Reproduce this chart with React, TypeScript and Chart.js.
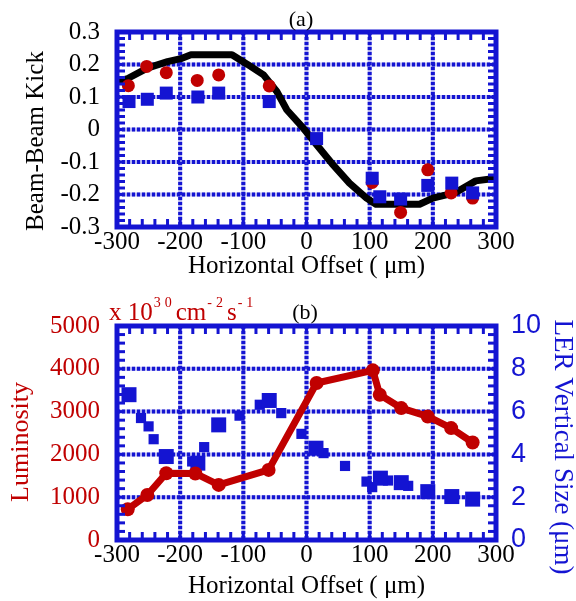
import React, { useEffect, useRef } from "react";
import { Chart, registerables } from "chart.js";

Chart.register(...registerables);

// ---------- data ----------
const offsetTicks = [-300, -200, -100, 0, 100, 200, 300];
const kickTicks = [-0.3, -0.2, -0.1, 0, 0.1, 0.2, 0.3];
const lumTicks = [0, 1000, 2000, 3000, 4000, 5000];
const sizeTicks = [0, 2, 4, 6, 8, 10];

// (a) calculated beam-beam kick (black curve)
const kickCalcX = [-300, -283, -252, -220, -199, -183, -118, -94, -68, -47, -31, -5, 16, 40, 68, 95, 110, 179, 200, 236, 268, 300];
const kickCalcY = [0.147, 0.157, 0.189, 0.209, 0.218, 0.23, 0.23, 0.201, 0.168, 0.117, 0.06, 0.004, -0.047, -0.104, -0.165, -0.211, -0.23, -0.23, -0.211, -0.194, -0.158, -0.15];

// (a) measured kick, red circles
const kickRedX = [-282, -253, -222, -173, -139, -59, 104, 149, 192, 229, 263];
const kickRedY = [0.135, 0.194, 0.175, 0.151, 0.168, 0.134, -0.163, -0.255, -0.124, -0.195, -0.211];

// (a) measured kick, blue squares
const kickBlueX = [-281, -252, -222, -172, -139, -59, 16, 104, 116, 149, 192, 230, 263];
const kickBlueY = [0.086, 0.093, 0.112, 0.1, 0.112, 0.086, -0.028, -0.15, -0.207, -0.214, -0.172, -0.165, -0.195];

// (b) luminosity (red line)
const lumX = [-283, -252, -222, -176, -139, -60, 16, 105, 116, 150, 192, 229, 263];
const lumY = [718, 1053, 1561, 1555, 1287, 1638, 3668, 3964, 3394, 3082, 2887, 2614, 2278];

// (b) LER vertical size, large squares
const sizeBigX = [-281, -222, -172, -139, -59, 15, 117, 150, 192, 230, 263];
const sizeBigY = [6.79, 3.9, 3.59, 5.38, 6.52, 4.29, 2.89, 2.68, 2.26, 2.03, 1.91];

// (b) LER vertical size, small squares
const sizeSmallX = [-262, -250, -242, -181, -162, -106, -74, -40, -8, 27, 61, 95, 104, 129, 161];
const sizeSmallY = [5.7, 5.31, 4.71, 3.67, 4.34, 5.81, 6.32, 5.93, 4.96, 4.06, 3.46, 2.73, 2.47, 2.78, 2.53];

// ---------- styles ----------
const BLUE = "#1414d2";
const RED = "#c00000";
const SERIF = "'Liberation Serif', 'Times New Roman', serif";
const SANS = "'Liberation Sans', Arial, sans-serif";

const pts = (xs: number[], ys: number[]) => xs.map((x, i) => ({ x, y: ys[i] }));

const framePlugin = {
  id: "frame",
  beforeDatasetsDraw(chart: any) {
    const { ctx, chartArea: a, scales } = chart;
    ctx.save();
    ctx.lineWidth = 4;
    const line = (x1: number, y1: number, x2: number, y2: number) => {
      ctx.setLineDash([]);
      ctx.strokeStyle = "rgba(40,40,215,0.35)";
      ctx.beginPath();
      ctx.moveTo(x1, y1);
      ctx.lineTo(x2, y2);
      ctx.stroke();
      ctx.setLineDash([3, 2]);
      ctx.strokeStyle = BLUE;
      ctx.beginPath();
      ctx.moveTo(x1, y1);
      ctx.lineTo(x2, y2);
      ctx.stroke();
    };
    const sx = scales.x;
    sx.ticks.forEach((t: any) => {
      if (t.value > sx.min && t.value < sx.max) {
        const p = sx.getPixelForValue(t.value);
        line(p, a.top, p, a.bottom);
      }
    });
    const sy = scales.y;
    sy.ticks.forEach((t: any) => {
      if (t.value > sy.min && t.value < sy.max) {
        const p = sy.getPixelForValue(t.value);
        line(a.left, p, a.right, p);
      }
    });
    ctx.restore();
  },
  afterDatasetsDraw(chart: any, _args: any, opts: any) {
    const { ctx, chartArea: a, scales } = chart;
    ctx.save();
    ctx.strokeStyle = BLUE;
    ctx.setLineDash([]);
    ctx.lineWidth = 3;
    const L = 8;
    const tick = (x1: number, y1: number, x2: number, y2: number) => {
      ctx.beginPath();
      ctx.moveTo(x1, y1);
      ctx.lineTo(x2, y2);
      ctx.stroke();
    };
    const steps = (s: any, step: number, fn: (p: number) => void) => {
      const n = Math.round((s.max - s.min) / step);
      for (let i = 0; i <= n; i++) fn(s.getPixelForValue(s.min + i * step));
    };
    steps(scales.x, opts.xStep, (p) => {
      tick(p, a.top, p, a.top + L);
      tick(p, a.bottom, p, a.bottom - L);
    });
    steps(scales.y, opts.yStep, (p) => {
      tick(a.left, p, a.left + L, p);
      if (!scales.y2) tick(a.right, p, a.right - L, p);
    });
    if (scales.y2) {
      steps(scales.y2, opts.y2Step, (p) => tick(a.right, p, a.right - L, p));
    }
    ctx.lineWidth = 5;
    ctx.strokeRect(a.left, a.top, a.right - a.left, a.bottom - a.top);
    ctx.restore();
  },
  afterDraw(chart: any, _args: any, opts: any) {
    const { ctx } = chart;
    ctx.save();
    (opts.texts || []).forEach((t: any) => {
      ctx.save();
      ctx.translate(t.x, t.y);
      ctx.rotate(t.rot || 0);
      ctx.font = t.font;
      ctx.fillStyle = t.color;
      ctx.textAlign = "center";
      ctx.textBaseline = t.baseline || "middle";
      ctx.fillText(t.text, 0, 0);
      ctx.restore();
    });
    if (opts.rich) {
      const r = opts.rich;
      let x = r.x;
      ctx.fillStyle = r.color;
      ctx.textAlign = "left";
      ctx.textBaseline = "alphabetic";
      r.segs.forEach((s: any) => {
        if (s.sup) {
          ctx.font = r.supFont;
          for (const ch of s.t) {
            ctx.fillText(ch, x, r.y - r.rise);
            x += ctx.measureText(ch).width + r.gap;
          }
        } else {
          ctx.font = r.font;
          ctx.fillText(s.t, x, r.y);
          x += ctx.measureText(s.t).width + 1;
        }
      });
    }
    ctx.restore();
  },
};

const xAxis = (height: number, titlePad: number) => ({
  type: "linear" as const,
  min: -300,
  max: 300,
  afterBuildTicks: (s: any) => {
    s.ticks = offsetTicks.map((v) => ({ value: v }));
  },
  afterFit: (s: any) => {
    s.height = height;
  },
  grid: { display: false, drawTicks: false },
  border: { display: false },
  ticks: {
    autoSkip: false,
    maxRotation: 0,
    padding: 0,
    color: "#000",
    font: { family: SERIF, size: 25 },
    callback: (v: any) => String(v),
  },
  title: {
    display: true,
    text: "Horizontal Offset ( μm)",
    color: "#000",
    font: { family: SERIF, size: 25 },
    padding: { top: 0, bottom: titlePad },
  },
});

function KickChart() {
  const ref = useRef<HTMLCanvasElement>(null);
  useEffect(() => {
    const chart = new Chart(ref.current!, {
      type: "scatter",
      data: {
        datasets: [
          {
            label: "blue",
            data: pts(kickBlueX, kickBlueY),
            pointStyle: "rect",
            pointRadius: 9.2,
            pointBackgroundColor: BLUE,
            pointBorderWidth: 0,
            showLine: false,
          },
          {
            label: "red",
            data: pts(kickRedX, kickRedY),
            pointStyle: "circle",
            pointRadius: 6.5,
            pointBackgroundColor: RED,
            pointBorderWidth: 0,
            showLine: false,
          },
          {
            label: "calc",
            data: pts(kickCalcX, kickCalcY),
            showLine: true,
            borderColor: "#000",
            borderWidth: 7,
            borderJoinStyle: "round",
            borderCapStyle: "butt",
            pointRadius: 0,
            tension: 0,
          } as any,
        ],
      },
      options: {
        responsive: false,
        animation: false,
        layout: { padding: { left: 0, right: 80, top: 32, bottom: 0 } },
        plugins: {
          legend: { display: false },
          tooltip: { enabled: false },
          frame: {
            xStep: 20,
            yStep: 0.02,
            texts: [
              { text: "(a)", x: 301, y: 26, font: `22px ${SERIF}`, color: "#000", baseline: "alphabetic" },
              { text: "Beam-Beam Kick", x: 36, y: 141, rot: -Math.PI / 2, font: `25px ${SERIF}`, color: "#000" },
            ],
          },
        } as any,
        scales: {
          x: xAxis(63, 9),
          y: {
            type: "linear",
            min: -0.3,
            max: 0.3,
            afterBuildTicks: (s: any) => {
              s.ticks = kickTicks.map((v) => ({ value: v }));
            },
            afterFit: (s: any) => {
              s.width = 117;
            },
            grid: { display: false, drawTicks: false },
            border: { display: false },
            ticks: {
              autoSkip: false,
              padding: 17,
              color: "#000",
              font: { family: SERIF, size: 25 },
              callback: (v: any) => String(Math.round(Number(v) * 10) / 10),
            },
          },
        },
      },
      plugins: [framePlugin],
    });
    return () => chart.destroy();
  }, []);
  return <canvas ref={ref} width={576} height={290} style={{ display: "block" }} />;
}

function LumChart() {
  const ref = useRef<HTMLCanvasElement>(null);
  useEffect(() => {
    const chart = new Chart(ref.current!, {
      type: "scatter",
      data: {
        datasets: [
          {
            label: "Luminosity",
            data: pts(lumX, lumY),
            yAxisID: "y",
            showLine: true,
            borderColor: RED,
            borderWidth: 7,
            borderJoinStyle: "round",
            pointStyle: "circle",
            pointRadius: 7,
            pointBackgroundColor: RED,
            pointBorderWidth: 0,
            tension: 0,
          } as any,
          {
            label: "size big",
            data: pts(sizeBigX, sizeBigY),
            yAxisID: "y2",
            pointStyle: "rect",
            pointRadius: 10.6,
            pointBackgroundColor: BLUE,
            pointBorderWidth: 0,
            showLine: false,
          },
          {
            label: "size small",
            data: pts(sizeSmallX, sizeSmallY),
            yAxisID: "y2",
            pointStyle: "rect",
            pointRadius: 7.2,
            pointBackgroundColor: BLUE,
            pointBorderWidth: 0,
            showLine: false,
          },
        ],
      },
      options: {
        responsive: false,
        animation: false,
        layout: { padding: { left: 0, right: 0, top: 36, bottom: 0 } },
        plugins: {
          legend: { display: false },
          tooltip: { enabled: false },
          frame: {
            xStep: 20,
            yStep: 200,
            y2Step: 0.4,
            texts: [
              { text: "(b)", x: 305, y: 29, font: `22px ${SERIF}`, color: "#000", baseline: "alphabetic" },
              { text: "Luminosity", x: 21, y: 152, rot: -Math.PI / 2, font: `26px ${SERIF}`, color: RED },
              { text: "LER Vertical Size (μm)", x: 562, y: 157, rot: Math.PI / 2, font: `27px ${SERIF}`, color: BLUE },
            ],
            rich: {
              x: 109,
              y: 30,
              rise: 13,
              gap: 4,
              color: RED,
              font: `25px ${SERIF}`,
              supFont: `14px ${SERIF}`,
              segs: [
                { t: "x 10" },
                { t: "30", sup: true },
                { t: "cm" },
                { t: "-2", sup: true },
                { t: "s" },
                { t: "-1", sup: true },
              ],
            },
          },
        } as any,
        scales: {
          x: xAxis(61, 0),
          y: {
            type: "linear",
            position: "left",
            min: 0,
            max: 5000,
            afterBuildTicks: (s: any) => {
              s.ticks = lumTicks.map((v) => ({ value: v }));
            },
            afterFit: (s: any) => {
              s.width = 117;
            },
            grid: { display: false, drawTicks: false },
            border: { display: false },
            ticks: {
              autoSkip: false,
              padding: 17,
              color: RED,
              font: { family: SERIF, size: 25 },
              callback: (v: any) => String(v),
            },
          },
          y2: {
            type: "linear",
            position: "right",
            min: 0,
            max: 10,
            afterBuildTicks: (s: any) => {
              s.ticks = sizeTicks.map((v) => ({ value: v }));
            },
            afterFit: (s: any) => {
              s.width = 80;
            },
            grid: { display: false, drawTicks: false },
            border: { display: false },
            ticks: {
              autoSkip: false,
              padding: 15,
              color: BLUE,
              font: { family: SANS, size: 27 },
              callback: (v: any) => String(v),
            },
          },
        },
      },
      plugins: [framePlugin],
    });
    return () => chart.destroy();
  }, []);
  return <canvas ref={ref} width={576} height={311} style={{ display: "block" }} />;
}

export default function App() {
  return (
    <div style={{ position: "absolute", left: 0, top: 0, width: 576, height: 601, background: "#fff" }}>
      <KickChart />
      <LumChart />
    </div>
  );
}
